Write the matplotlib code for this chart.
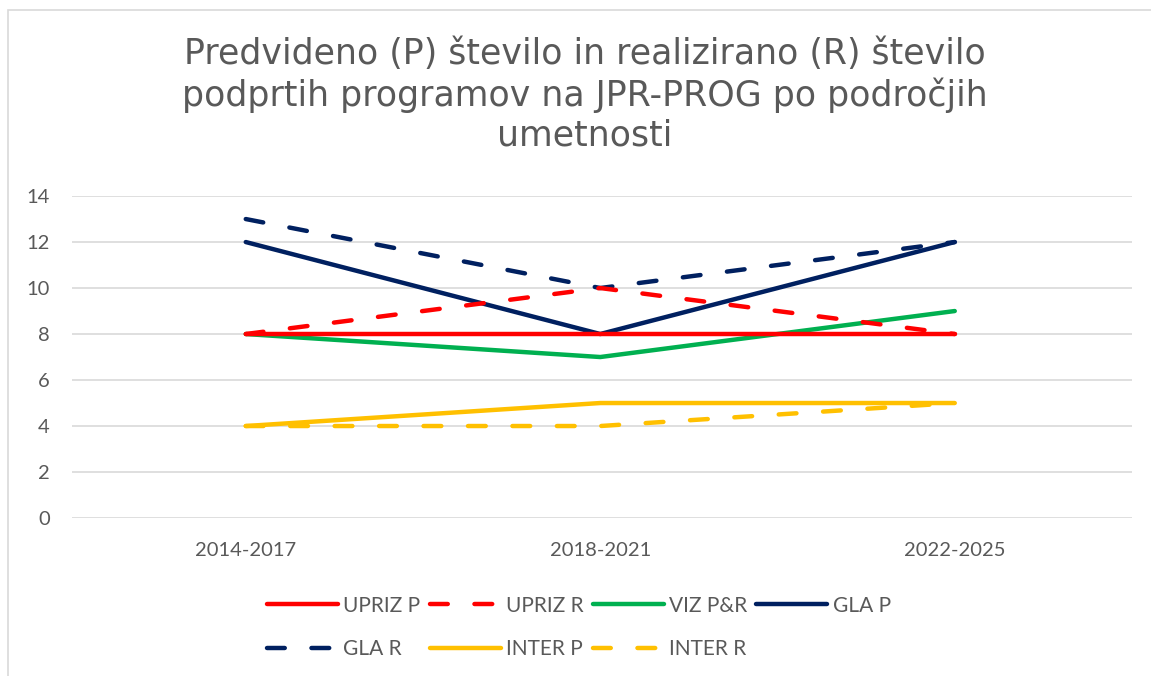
import matplotlib
matplotlib.use("Agg")
import matplotlib.pyplot as plt
from matplotlib.patches import Rectangle

categories = ["2014-2017", "2018-2021", "2022-2025"]
upriz_p = [8, 8, 8]
upriz_r = [8, 10, 8]
viz_pr = [8, 7, 9]
gla_p = [12, 8, 12]
gla_r = [13, 10, 12]
inter_p = [4, 5, 5]
inter_r = [4, 4, 5]
yticks = [0, 2, 4, 6, 8, 10, 12, 14]
title = "Predvideno (P) število in realizirano (R) število\npodprtih programov na JPR-PROG po področjih\numetnosti"

RED = "#FF0000"
GREEN = "#00B050"
NAVY = "#002060"
GOLD = "#FFC000"
GRAY = "#595959"

plt.rcParams['font.family'] = ['Lato', 'DejaVu Sans']

fig = plt.figure(figsize=(11.51, 6.76), dpi=100)
ax = fig.add_axes([0.0626, 0.2337, 0.9209, 0.4763])

x = list(range(len(categories)))
lw = 3.2
dash = (4, 6)

def plot(vals, color, label, dashed=False, z=3):
    kw = dict(color=color, lw=lw, label=label, solid_capstyle='round', zorder=z)
    if dashed:
        kw.update(linestyle=(0, dash), dash_capstyle='round')
    return ax.plot(x, vals, **kw)[0]

h_gr = plot(gla_r, NAVY, "GLA R", dashed=True, z=3)
h_gp = plot(gla_p, NAVY, "GLA P", z=4)
h_ur = plot(upriz_r, RED, "UPRIZ R", dashed=True, z=5)
h_viz = plot(viz_pr, GREEN, "VIZ P&R", z=3.5)
h_up = plot(upriz_p, RED, "UPRIZ P", z=4.5)
h_ip = plot(inter_p, GOLD, "INTER P", z=3)
h_ir = plot(inter_r, GOLD, "INTER R", dashed=True, z=3.2)

ax.set_xlim(-0.49, 2.5)
ax.set_ylim(0, 14)
ax.set_yticks(yticks)
ax.set_xticks(x)
ax.set_xticklabels(categories)
ax.grid(axis='y', color='#D9D9D9', lw=1.2, zorder=0)
ax.set_axisbelow(True)
for s in ax.spines.values():
    s.set_visible(False)
ax.tick_params(length=0, labelsize=14.5, labelcolor=GRAY)
ax.tick_params(axis='y', pad=16)
ax.tick_params(axis='x', pad=17)

fig.text(0.508, 0.8595, title, ha='center', va='center', fontsize=25, color=GRAY,
         linespacing=1.22, family='DejaVu Sans')

order = [h_up, h_gr, h_ur, h_ip, h_viz, h_ir, h_gp]
leg = fig.legend(handles=order, labels=[h.get_label() for h in order], ncol=4,
                 loc='center', bbox_to_anchor=(0.503, 0.072),
                 frameon=False, fontsize=15, labelcolor=GRAY, handlelength=3.4,
                 handletextpad=0.25, columnspacing=0.45, labelspacing=1.12)

fig.add_artist(Rectangle((0.007, -0.1), 2, 1.085, transform=fig.transFigure,
                         fill=False, edgecolor='#D9D9D9', lw=1.2))

fig.savefig("out.png", dpi=100, facecolor='white')
